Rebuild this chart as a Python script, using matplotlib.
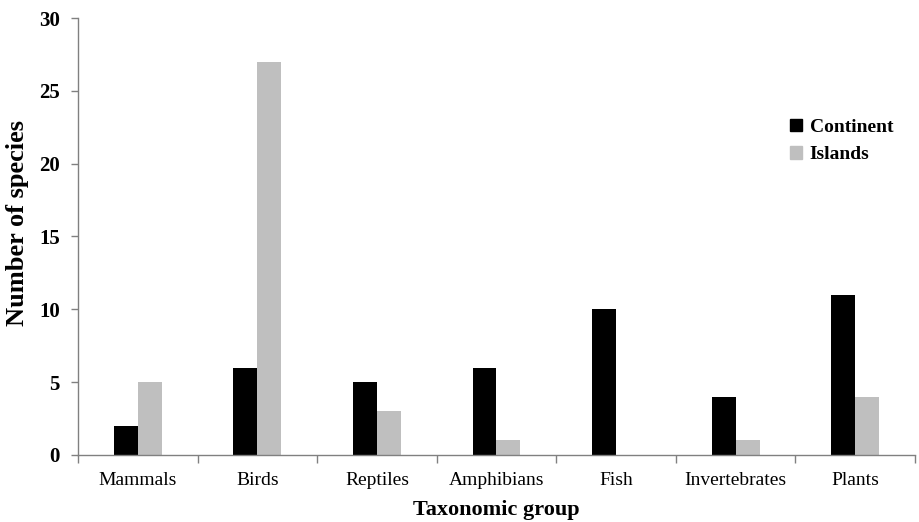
import numpy as np
from matplotlib import pyplot as plt
from matplotlib.patches import Patch
from matplotlib.ticker import FixedLocator

groups = ['Mammals', 'Birds', 'Reptiles', 'Amphibians', 'Fish', 'Invertebrates', 'Plants']
continent = [2, 6, 5, 6, 10, 4, 11]
islands = [5, 27, 3, 1, 0, 1, 4]

plt.rcParams['font.family'] = ['Liberation Serif', 'DejaVu Serif']

fig = plt.figure(figsize=(9.19, 5.22), dpi=100)
ax = fig.add_axes([0.0849, 0.1284, 0.9107, 0.8371])

x = np.arange(len(groups))
width = 0.2
ax.bar(x - width / 2, continent, width, color='black', label='Continent')
ax.bar(x + width / 2, islands, width, color='#bfbfbf', label='Islands')

ax.set_xlim(-0.5, len(groups) - 0.5)
ax.set_ylim(0, 30)
ax.set_yticks([0, 5, 10, 15, 20, 25, 30])
ax.set_xticks(x)
ax.set_xticklabels(groups, fontsize=14)
ax.xaxis.set_minor_locator(FixedLocator(np.arange(len(groups) + 1) - 0.5))
ax.tick_params(axis='x', which='major', length=0, pad=12)
ax.tick_params(axis='x', which='minor', length=6, color='#808080', width=1)
ax.tick_params(axis='y', length=5, color='#808080', width=1, pad=8)
for lbl in ax.get_yticklabels():
    lbl.set_fontsize(15)
    lbl.set_fontweight('bold')

for side in ['top', 'right']:
    ax.spines[side].set_visible(False)
for side in ['left', 'bottom']:
    ax.spines[side].set_color('#808080')
    ax.spines[side].set_linewidth(1)

ax.set_xlabel('Taxonomic group', fontsize=16, fontweight='bold', labelpad=8)
ax.set_ylabel('Number of species', fontsize=19, fontweight='bold')
ax.yaxis.set_label_coords(-0.058, 0.53)

handles = [Patch(color='black'), Patch(color='#bfbfbf')]
ax.legend(handles, ['Continent', 'Islands'], loc='upper left', bbox_to_anchor=(0.83, 0.81),
          frameon=False, prop={'size': 14, 'weight': 'bold'},
          handlelength=0.6, handleheight=0.6, handletextpad=0.4, labelspacing=0.55)

fig.savefig('out.png', dpi=100)
